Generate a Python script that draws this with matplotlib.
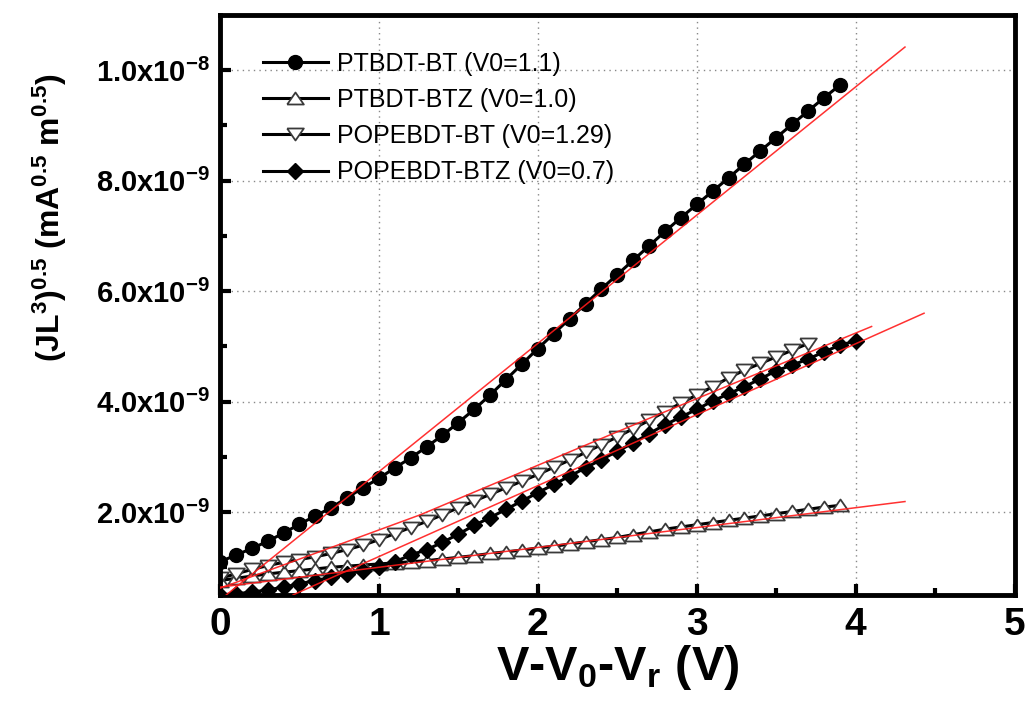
import numpy as np
import matplotlib
matplotlib.use('Agg')
import matplotlib.pyplot as plt
from matplotlib.ticker import MultipleLocator, FixedLocator

plt.rcParams['font.family'] = ['Liberation Sans', 'DejaVu Sans']
plt.rcParams['mathtext.fontset'] = 'custom'
plt.rcParams['mathtext.rm'] = 'Liberation Sans:bold'
plt.rcParams['mathtext.bf'] = 'Liberation Sans:bold'
plt.rcParams['mathtext.default'] = 'bf'

# measured data, y in units of 1e-9 mA^0.5 m^0.5
x_bt = [0.0, 0.1, 0.2, 0.3, 0.4, 0.5, 0.6, 0.7, 0.8, 0.9,
        1.0, 1.1, 1.2, 1.3, 1.4, 1.5, 1.6, 1.7, 1.8, 1.9,
        2.0, 2.1, 2.2, 2.3, 2.4, 2.5, 2.6, 2.7, 2.8, 2.9,
        3.0, 3.1, 3.2, 3.3, 3.4, 3.5, 3.6, 3.7, 3.8, 3.9]
y_ptbdt_bt = [1.10, 1.22, 1.34, 1.47, 1.62, 1.78, 1.93, 2.08, 2.26, 2.44,
              2.61, 2.80, 2.98, 3.18, 3.39, 3.62, 3.86, 4.12, 4.40, 4.68,
              4.96, 5.23, 5.50, 5.77, 6.04, 6.30, 6.56, 6.82, 7.08, 7.33,
              7.57, 7.81, 8.05, 8.30, 8.54, 8.78, 9.02, 9.26, 9.50, 9.73]
y_ptbdt_btz = [0.76, 0.80, 0.84, 0.88, 0.91, 0.94, 0.97, 1.00, 1.02, 1.04,
               1.06, 1.08, 1.10, 1.12, 1.15, 1.18, 1.21, 1.25, 1.28, 1.31,
               1.35, 1.38, 1.42, 1.46, 1.50, 1.54, 1.59, 1.64, 1.69, 1.73,
               1.77, 1.81, 1.85, 1.89, 1.93, 1.97, 2.01, 2.05, 2.09, 2.12]

x_pope_bt = [0.0, 0.1, 0.2, 0.3, 0.4, 0.5, 0.6, 0.7, 0.8, 0.9,
             1.0, 1.1, 1.2, 1.3, 1.4, 1.5, 1.6, 1.7, 1.8, 1.9,
             2.0, 2.1, 2.2, 2.3, 2.4, 2.5, 2.6, 2.7, 2.8, 2.9,
             3.0, 3.1, 3.2, 3.3, 3.4, 3.5, 3.6, 3.7]
y_pope_bt = [0.80, 0.88, 0.96, 1.03, 1.09, 1.14, 1.19, 1.25, 1.32, 1.40,
             1.50, 1.61, 1.72, 1.83, 1.95, 2.08, 2.20, 2.32, 2.44, 2.56,
             2.68, 2.81, 2.94, 3.08, 3.22, 3.36, 3.51, 3.66, 3.82, 3.97,
             4.12, 4.27, 4.43, 4.57, 4.69, 4.81, 4.93, 5.05]

x_pope_btz = [0.0, 0.1, 0.2, 0.3, 0.4, 0.5, 0.6, 0.7, 0.8, 0.9,
              1.0, 1.1, 1.2, 1.3, 1.4, 1.5, 1.6, 1.7, 1.8, 1.9,
              2.0, 2.1, 2.2, 2.3, 2.4, 2.5, 2.6, 2.7, 2.8, 2.9,
              3.0, 3.1, 3.2, 3.3, 3.4, 3.5, 3.6, 3.7, 3.8, 3.9, 4.0]
y_pope_btz = [0.50, 0.52, 0.55, 0.59, 0.64, 0.70, 0.76, 0.82, 0.88, 0.94,
              1.00, 1.10, 1.22, 1.32, 1.45, 1.60, 1.76, 1.90, 2.05, 2.20,
              2.35, 2.50, 2.65, 2.80, 2.95, 3.10, 3.25, 3.42, 3.58, 3.72,
              3.86, 4.01, 4.14, 4.27, 4.41, 4.56, 4.66, 4.77, 4.90, 5.02, 5.10]

# red fit lines (end points)
fit_ptbdt_bt_x = [0.04, 4.31]
fit_ptbdt_bt_y = [0.50, 10.42]
fit_ptbdt_btz_x = [0.0, 4.31]
fit_ptbdt_btz_y = [0.64, 2.19]
fit_pope_bt_x = [0.0, 1.26, 2.77, 4.10]
fit_pope_bt_y = [0.62, 1.95, 3.78, 5.36]
fit_pope_btz_x = [0.46, 4.43]
fit_pope_btz_y = [0.50, 5.60]

labels = ['PTBDT-BT (V0=1.1)', 'PTBDT-BTZ (V0=1.0)',
          'POPEBDT-BT (V0=1.29)', 'POPEBDT-BTZ (V0=0.7)']

yticks = [2, 4, 6, 8, 10]
ytick_labels = [r'2.0x10$^{-9}$', r'4.0x10$^{-9}$', r'6.0x10$^{-9}$',
                r'8.0x10$^{-9}$', r'1.0x10$^{-8}$']

E = 1e-9

# flattened triangles (wider than tall, as in the original)
tri_up = [(-1, -0.72), (1, -0.72), (0, 0.72), (-1, -0.72)]
tri_dn = [(-1, 0.72), (1, 0.72), (0, -0.72), (-1, 0.72)]

fig = plt.figure(figsize=(10.28, 7.15), dpi=100)
ax = fig.add_axes([0.214, 0.168, 0.773, 0.811])

line_kw = dict(color='k', lw=2.2)
ax.plot(x_bt, np.array(y_ptbdt_bt) * E, marker='o', ms=10, mfc='k', mec='k',
        label=labels[0], **line_kw)
ax.plot(x_bt, np.array(y_ptbdt_btz) * E, marker=tri_up, ms=12, mfc='white', mec='#3a3a3a',
        mew=1.3, label=labels[1], **line_kw)
ax.plot(x_pope_bt, np.array(y_pope_bt) * E, marker=tri_dn, ms=12, mfc='white', mec='#3a3a3a',
        mew=1.3, label=labels[2], **line_kw)
ax.plot(x_pope_btz, np.array(y_pope_btz) * E, marker='D', ms=8, mfc='k', mec='k',
        label=labels[3], **line_kw)

red_kw = dict(color='#ff1a1a', lw=1.1, alpha=0.9, zorder=5)
ax.plot(fit_ptbdt_bt_x, np.array(fit_ptbdt_bt_y) * E, **red_kw)
ax.plot(fit_ptbdt_btz_x, np.array(fit_ptbdt_btz_y) * E, **red_kw)
ax.plot(fit_pope_bt_x, np.array(fit_pope_bt_y) * E, **red_kw)
ax.plot(fit_pope_btz_x, np.array(fit_pope_btz_y) * E, **red_kw)

ax.set_xlim(0, 5)
ax.set_ylim(0.5 * E, 11 * E)

ax.xaxis.set_major_locator(MultipleLocator(1))
ax.xaxis.set_minor_locator(MultipleLocator(0.5))
ax.yaxis.set_major_locator(FixedLocator([v * E for v in yticks]))
ax.yaxis.set_minor_locator(FixedLocator([v * E for v in [1, 3, 5, 7, 9]]))
ax.set_yticklabels(ytick_labels)

ax.grid(True, which='major', color='#888888', ls=(0, (1, 3)), lw=1.0)
ax.set_axisbelow(True)

for s in ax.spines.values():
    s.set_linewidth(3.5)
ax.tick_params(which='major', direction='in', length=8, width=3)
ax.tick_params(which='minor', direction='in', length=5, width=3)
ax.tick_params(top=False, right=False, which='both')
ax.tick_params(axis='x', pad=9)
ax.tick_params(axis='y', pad=7)

for t in ax.get_yticklabels():
    t.set_fontsize(21)
    t.set_fontweight('bold')
for t in ax.get_xticklabels():
    t.set_fontsize(28)
    t.set_fontweight('bold')

ax.set_xlabel(r'V-V$_{0}$-V$_{r}$ (V)', fontsize=35, fontweight='bold', labelpad=0)
ax.set_ylabel(r'(JL$^{3}$)$^{0.5}$ (mA$^{0.5}$ m$^{0.5}$)', fontsize=23, fontweight='bold')
ax.yaxis.set_label_coords(-0.19, 0.65)

ax.legend(loc='upper left', bbox_to_anchor=(0.054, 0.937), frameon=False, fontsize=18,
          handlelength=2.6, handletextpad=0.35, labelspacing=0.49, borderaxespad=0,
          borderpad=0)

fig.savefig('out.png', dpi=100)
